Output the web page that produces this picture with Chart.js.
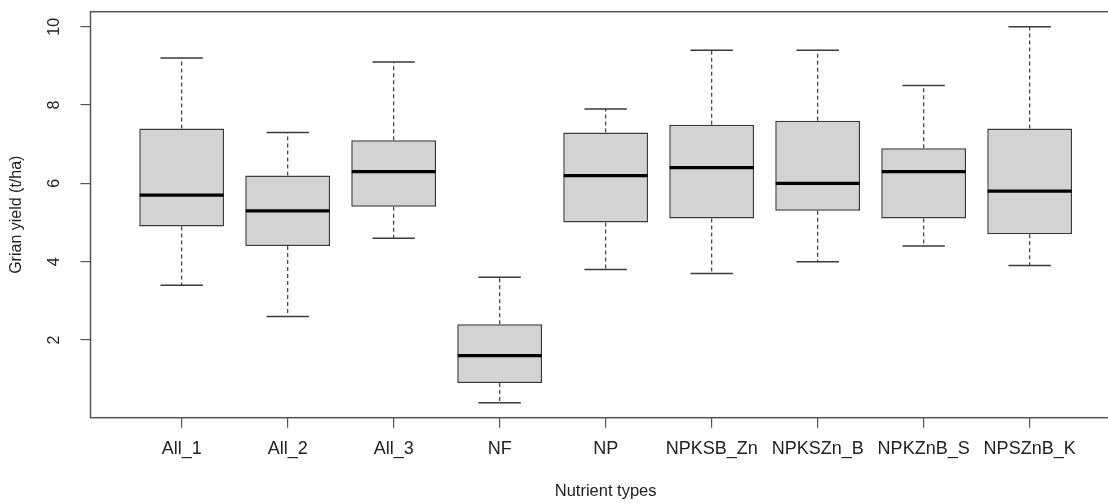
<!DOCTYPE html>
<html>
<head>
<meta charset="utf-8">
<script src="https://cdn.jsdelivr.net/npm/chart.js@4"></script>
<style>
  html, body { margin: 0; padding: 0; background: #ffffff; overflow: hidden; width: 1108px; height: 504px; }
  canvas { display: block; }
</style>
</head>
<body>
<canvas id="c" width="1125" height="504"></canvas>
<script>
// ---- data ----
const categories = ['All_1', 'All_2', 'All_3', 'NF', 'NP', 'NPKSB_Zn', 'NPKSZn_B', 'NPKZnB_S', 'NPSZnB_K'];
const minVals    = [3.4, 2.6, 4.6, 0.4, 3.8, 3.7, 4.0, 4.4, 3.9];
const q1Vals     = [4.9, 4.4, 5.4, 0.9, 5.0, 5.1, 5.3, 5.1, 4.7];
const medianVals = [5.7, 5.3, 6.3, 1.6, 6.2, 6.4, 6.0, 6.3, 5.8];
const q3Vals     = [7.4, 6.2, 7.1, 2.4, 7.3, 7.5, 7.6, 6.9, 7.4];
const maxVals    = [9.2, 7.3, 9.1, 3.6, 7.9, 9.4, 9.4, 8.5, 10.0];
const yTicks     = [2, 4, 6, 8, 10];
const xTitle = 'Nutrient types';
const yTitle = 'Grian yield (t/ha)';

// R-style 4% axis extension
const lo = Math.min(...minVals), hi = Math.max(...maxVals);
const yMin = lo - 0.04 * (hi - lo), yMax = hi + 0.04 * (hi - lo);
const xMin = 0.5 - 0.04 * categories.length, xMax = categories.length + 0.5 + 0.04 * categories.length;

const FONT = '"Liberation Sans", Arial, Helvetica, sans-serif';
const TEXT = '#222222';
const LINE = '#4a4a4a';

const boxParts = {
  id: 'boxParts',
  beforeDatasetsDraw(chart) {
    const ctx = chart.ctx, x = chart.scales.x, y = chart.scales.y;
    const meta = chart.getDatasetMeta(0);
    ctx.save();
    meta.data.forEach((bar, i) => {
      const cx = x.getPixelForValue(i + 1);
      const w = bar.width;
      const yMinP = y.getPixelForValue(minVals[i]);
      const yMaxP = y.getPixelForValue(maxVals[i]);
      const yQ1 = y.getPixelForValue(q1Vals[i]);
      const yQ3 = y.getPixelForValue(q3Vals[i]);
      // dashed whiskers
      ctx.strokeStyle = LINE;
      ctx.lineWidth = 1.3;
      ctx.setLineDash([4, 3]);
      ctx.beginPath();
      ctx.moveTo(cx, yQ3); ctx.lineTo(cx, yMaxP);
      ctx.moveTo(cx, yQ1); ctx.lineTo(cx, yMinP);
      ctx.stroke();
      // caps
      ctx.setLineDash([]);
      ctx.lineWidth = 1.5;
      ctx.strokeStyle = '#3a3a3a';
      ctx.beginPath();
      ctx.moveTo(cx - w / 4, yMaxP); ctx.lineTo(cx + w / 4, yMaxP);
      ctx.moveTo(cx - w / 4, yMinP); ctx.lineTo(cx + w / 4, yMinP);
      ctx.stroke();
    });
    ctx.restore();
  },
  afterDatasetsDraw(chart) {
    const ctx = chart.ctx, x = chart.scales.x, y = chart.scales.y;
    const meta = chart.getDatasetMeta(0);
    ctx.save();
    ctx.strokeStyle = '#000000';
    ctx.lineWidth = 3.2;
    meta.data.forEach((bar, i) => {
      const cx = x.getPixelForValue(i + 1);
      const w = bar.width;
      const ym = y.getPixelForValue(medianVals[i]);
      ctx.beginPath();
      ctx.moveTo(cx - w / 2 + 0.5, ym); ctx.lineTo(cx + w / 2 - 0.5, ym);
      ctx.stroke();
    });
    ctx.restore();
  },
  afterDraw(chart) {
    const ctx = chart.ctx, a = chart.chartArea, y = chart.scales.y;
    ctx.save();
    // plot frame
    ctx.strokeStyle = '#555555';
    ctx.lineWidth = 1.5;
    ctx.strokeRect(a.left, a.top, a.right - a.left, a.bottom - a.top);
    // rotated y tick labels (R style, parallel to axis)
    ctx.fillStyle = TEXT;
    ctx.font = '16px ' + FONT;
    ctx.textAlign = 'center';
    ctx.textBaseline = 'middle';
    yTicks.forEach(v => {
      ctx.save();
      ctx.translate(55, y.getPixelForValue(v));
      ctx.rotate(-Math.PI / 2);
      ctx.fillText(String(v), 0, 0);
      ctx.restore();
    });
    ctx.restore();
  }
};

new Chart(document.getElementById('c'), {
  type: 'bar',
  data: {
    datasets: [{
      data: categories.map((c, i) => ({ x: i + 1, y: [q1Vals[i], q3Vals[i]] })),
      backgroundColor: '#d3d3d3',
      borderColor: '#3c3c3c',
      borderWidth: 1.5,
      borderSkipped: false,
      barPercentage: 0.8,
      categoryPercentage: 1.0
    }]
  },
  options: {
    responsive: false,
    animation: false,
    events: [],
    layout: { padding: { top: 11.7, right: 4.2, left: 0, bottom: 0 } },
    plugins: { legend: { display: false }, tooltip: { enabled: false } },
    scales: {
      x: {
        type: 'linear',
        offset: false,
        min: xMin,
        max: xMax,
        afterBuildTicks: s => { s.ticks = categories.map((c, i) => ({ value: i + 1 })); },
        afterFit: s => { s.height = 86.3; },
        grid: { offset: false, drawOnChartArea: false, drawTicks: true, tickLength: 10, color: '#555555', lineWidth: 1.2 },
        border: { display: false },
        ticks: {
          autoSkip: false, maxRotation: 0, minRotation: 0, padding: 11,
          color: TEXT, font: { family: FONT, size: 18 },
          callback: v => categories[Math.round(v) - 1]
        },
        title: { display: true, text: xTitle, color: TEXT, font: { family: FONT, size: 16.5 }, padding: { top: 0, bottom: 2.4 } }
      },
      y: {
        type: 'linear',
        min: yMin,
        max: yMax,
        afterBuildTicks: s => { s.ticks = yTicks.map(v => ({ value: v })); },
        afterFit: s => { s.width = 90.5; },
        grid: { drawOnChartArea: false, drawTicks: true, tickLength: 10, color: '#555555', lineWidth: 1.2 },
        border: { display: false },
        ticks: { display: false },
        title: { display: true, text: yTitle, color: TEXT, font: { family: FONT, size: 16 }, padding: { top: 7.4, bottom: 0 } }
      }
    }
  },
  plugins: [boxParts]
});
</script>
</body>
</html>
